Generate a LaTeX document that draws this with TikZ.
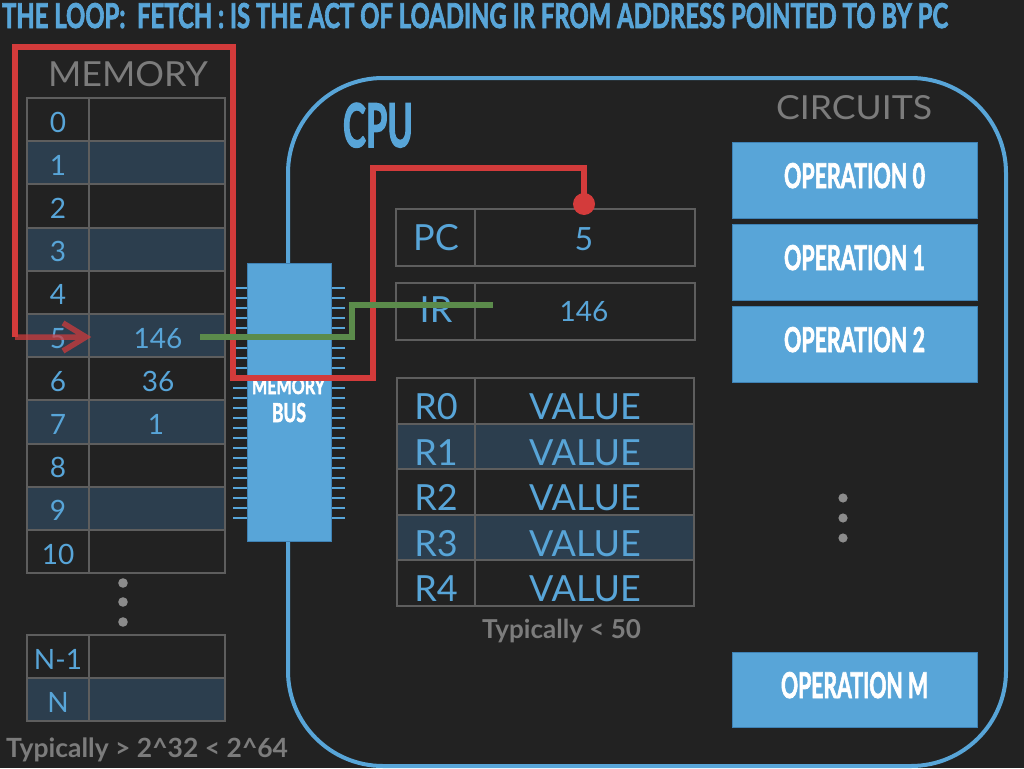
\documentclass[tikz,border=0pt]{standalone}
\usepackage{fontspec}
\setmainfont{Lato}
\newfontfamily\heavyf{Lato}[BoldFeatures={FakeBold=2.5}]
\usepackage{graphicx}
\definecolor{bgc}{HTML}{222222}
\definecolor{bluec}{HTML}{58A5D8}
\definecolor{bluedark}{HTML}{3F82B5}
\definecolor{shadec}{HTML}{2C3E4E}
\definecolor{gridc}{HTML}{5E5E5E}
\definecolor{grayt}{HTML}{7C7C7C}
\definecolor{dotc}{HTML}{8C8C8C}
\definecolor{redc}{HTML}{D33B3B}
\definecolor{greenc}{HTML}{5B8B4B}
\begin{document}
\begin{tikzpicture}[x=1pt,y=-1pt,
  every node/.style={inner sep=0pt,outer sep=0pt},
  gridline/.style={draw=gridc,line width=2pt},
  memnum/.style={text=bluec,font=\fontsize{28}{30}\selectfont,anchor=base},
  regnum/.style={text=bluec,font=\fontsize{36}{38}\selectfont,anchor=base},
  opbox/.style={fill=bluec,draw=bluedark,line width=1pt},
  pin/.style={draw=bluec,line width=1.6pt},
  redline/.style={draw=redc,line width=5.5pt,line join=miter},
  arrowred/.style={draw=redc,line width=5.5pt,opacity=0.72},
  greenline/.style={draw=greenc,line width=6pt},
  cpuline/.style={draw=bluec,line width=4pt},
  dotgray/.style={fill=dotc}]
\fill[bgc] (0,0) rectangle (1024,768);
\useasboundingbox (0,0) rectangle (1024,768);

% title
\node[anchor=base west,text=bluec] (title) at (2,28)
  {\resizebox{946pt}{25pt}{\heavyf\bfseries THE LOOP:\ \ FETCH : IS THE ACT OF LOADING IR FROM ADDRESS POINTED TO BY PC}};

% CPU outline
\draw[cpuline,rounded corners=95pt] (288,78) rectangle (1006,766);
\node[anchor=base west,text=bluec] (cpulabel) at (343,147) {\resizebox{70pt}{44pt}{\heavyf\bfseries CPU}};
\node[anchor=base west,text=grayt] (circuits) at (776,119) {\resizebox{156pt}{24pt}{CIRCUITS}};

% memory
\node[anchor=base west,text=grayt] (memlabel) at (48,86) {\resizebox{160pt}{25pt}{MEMORY}};
\foreach \i [evaluate=\i as \t using 98+43.2*\i] in {0,...,10} {
  \ifodd\i \fill[shadec] (27,\t) rectangle (225,\t+43.2); \fi
  \draw[gridline] (27,\t) rectangle (225,\t+43.2) (89,\t) -- (89,\t+43.2);
  \node[memnum] (mi\i) at (58,\t+34) {\i};
}
\node[memnum] (mv5) at (158,348) {146};
\node[memnum] (mv6) at (158,391.2) {36};
\node[memnum] (mv7) at (156,434.4) {1};
\foreach \y in {583,602,622} \fill[dotgray] (123,\y) circle (4.8pt);
\fill[shadec] (27,678) rectangle (225,721);
\draw[gridline] (27,635) rectangle (225,721) (27,678) -- (225,678) (89,635) -- (89,721);
\node[memnum] (min1) at (58,669) {N-1};
\node[memnum] (mn) at (58,712) {N};
\node[anchor=base west,text=grayt] (typmem) at (6,757) {\resizebox{282pt}{!}{\bfseries Typically > 2\textasciicircum 32 < 2\textasciicircum 64}};

% memory bus
\foreach \y in {288,298,...,518} {
  \draw[pin] (233,\y) -- (247,\y);
  \draw[pin] (331,\y) -- (345,\y);
}
\node[opbox,minimum width=84pt,minimum height=278pt] (bus) at (289,402) {};
\node[anchor=base west,text=white] (busl1) at (252,394) {\resizebox{73pt}{16pt}{\heavyf\bfseries MEMORY}};
\node[anchor=base west,text=white] (busl2) at (272,422) {\resizebox{34pt}{19pt}{\heavyf\bfseries BUS}};

% PC / IR
\draw[gridline] (396,209) rectangle (695,266) (475,209) -- (475,266);
\draw[gridline] (396,283) rectangle (695,340) (475,283) -- (475,340);
\node[regnum] (pc) at (436,250) {PC};
\node[memnum,font=\fontsize{32}{34}\selectfont] (pcv) at (584,250) {5};
\node[regnum] (ir) at (436,322) {IR};
\node[memnum] (irv) at (584,321) {146};

% registers
\foreach \i [evaluate=\i as \t using 378+45.6*\i] in {0,...,4} {
  \ifodd\i \fill[shadec] (397,\t) rectangle (694,\t+45.6); \fi
  \draw[gridline] (397,\t) rectangle (694,\t+45.6) (475,\t) -- (475,\t+45.6);
  \node[regnum] (r\i) at (436,\t+41.5) {R\i};
  \node[regnum] (v\i) at (585,\t+41.5) {VALUE};
}
\node[anchor=base west,text=grayt] (typreg) at (482,638) {\resizebox{159pt}{!}{\bfseries Typically < 50}};

% operations
\node[opbox,minimum width=245pt,minimum height=76pt] (op0) at (854.5,180) {};
\node[opbox,minimum width=245pt,minimum height=76pt] (op1) at (854.5,262) {};
\node[opbox,minimum width=245pt,minimum height=76pt] (op2) at (854.5,344) {};
\node[opbox,minimum width=245pt,minimum height=75pt] (opm) at (854.5,689.5) {};
\node[anchor=base west,text=white] (op0t) at (784,188) {\resizebox{141pt}{25pt}{\heavyf\bfseries OPERATION 0}};
\node[anchor=base west,text=white] (op1t) at (784,270) {\resizebox{141pt}{25pt}{\heavyf\bfseries OPERATION 1}};
\node[anchor=base west,text=white] (op2t) at (784,352) {\resizebox{141pt}{25pt}{\heavyf\bfseries OPERATION 2}};
\node[anchor=base west,text=white] (opmt) at (781,698) {\resizebox{147pt}{26pt}{\heavyf\bfseries OPERATION M}};
\foreach \y in {498,518,538} \fill[dotgray] (843,\y) circle (4.6pt);

% red fetch path
\coordinate (pcdot) at (584,204);
\coordinate (memrow) at (15,337);
\draw[redline] (pcdot) -- (584,168) -- (373,168) -- (373,378) -- (233,378) -- (233,47) -- (15,47) -- (memrow);
\fill[redc] (pcdot) circle (11pt);
\draw[arrowred] (memrow) -- (85,337) (63,323) -- (86,337) -- (63,351);

% green data path
\coordinate (gstart) at (200,337);
\coordinate (gend) at (493,305);
\draw[greenline] (gstart) -- (352,337) -- (352,305) -- (gend);
\end{tikzpicture}
\end{document}
